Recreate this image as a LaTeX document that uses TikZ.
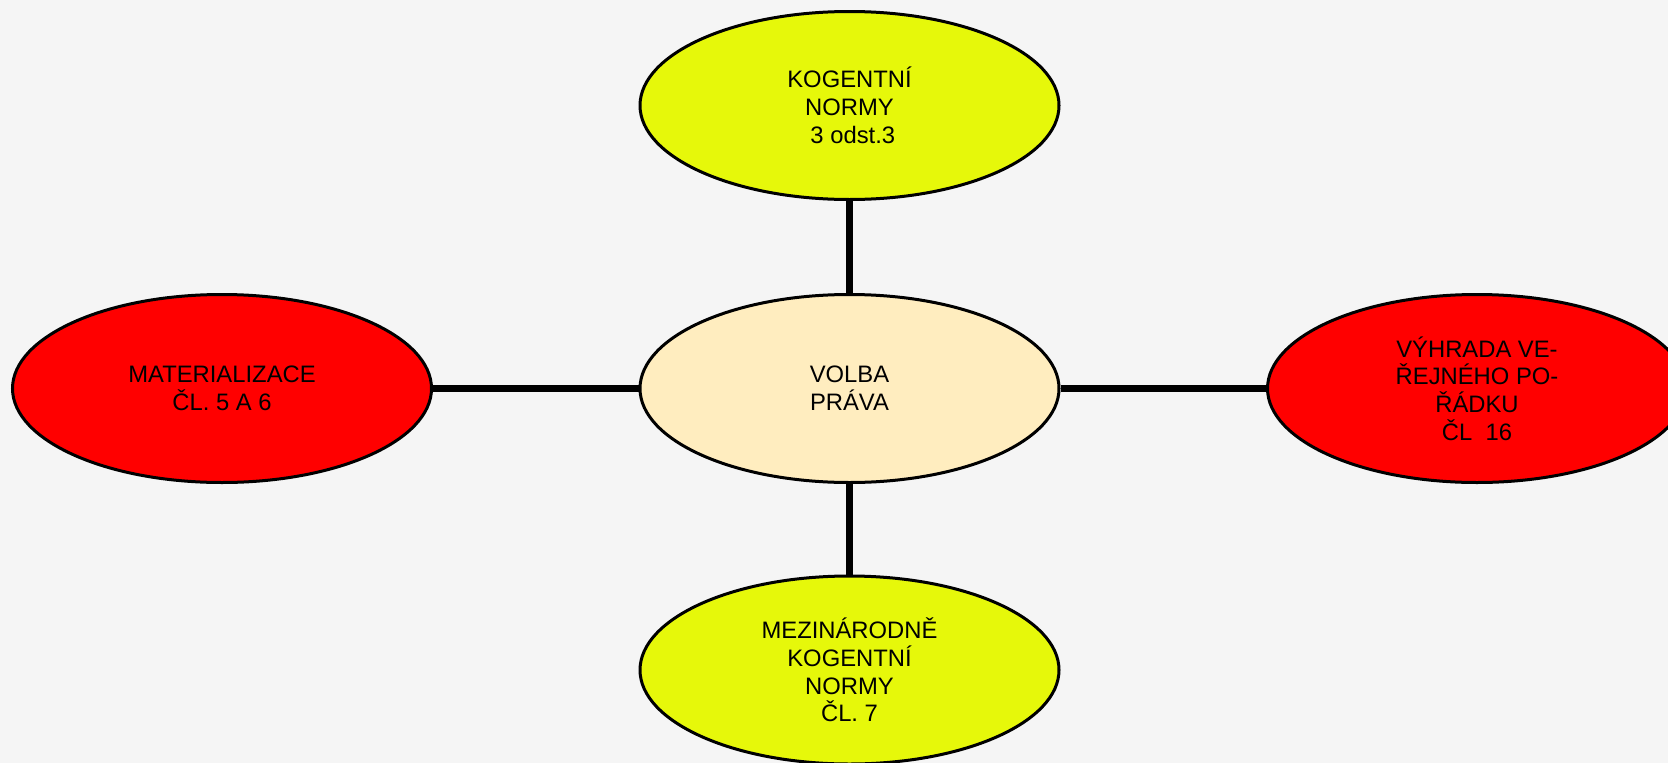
\documentclass[tikz,border=0pt]{standalone}
\usepackage{fontspec}
\setmainfont{Liberation Sans}
\usetikzlibrary{shapes.geometric}
\definecolor{bg}{RGB}{245,245,245}
\definecolor{lime}{RGB}{230,248,10}
\definecolor{cream}{RGB}{255,237,191}
\definecolor{redfill}{RGB}{255,0,0}
\tikzset{
  oval/.style={ellipse, draw=black, line width=3pt, minimum width=419pt, minimum height=188pt, inner sep=0pt, align=center, font=\fontsize{23.8}{27.8}\selectfont},
  link/.style={line width=7.5pt, draw=black}
}
\begin{document}
\begin{tikzpicture}[x=1pt,y=-1pt]
\useasboundingbox (0,0) rectangle (1668,763);
\fill[bg] (0,0) rectangle (1668,763);
\clip (0,0) rectangle (1668,763);
\node[oval, fill=cream] (c) at (849.5,388.5) {VOLBA\\PRÁVA};
\node[oval, fill=lime] (t) at (849.5,105.5) {KOGENTNÍ\\NORMY\\\ 3 odst.3};
\node[oval, fill=lime] (b) at (849.5,670) {MEZINÁRODNĚ\\KOGENTNÍ\\NORMY\\ČL. 7};
\node[oval, fill=redfill] (l) at (222,388.5) {MATERIALIZACE\\ČL. 5 A 6};
\node[oval, fill=redfill] (r) at (1477,388.5) {VÝHRADA VE-\\ŘEJNÉHO PO-\\ŘÁDKU\\ČL\ \ 16};
\draw[link] (t.south) -- (c.north);
\draw[link] (c.south) -- (b.north);
\draw[link] (l.east) -- (c.west);
\draw[link] (c.east) -- (r.west);
\end{tikzpicture}
\end{document}
